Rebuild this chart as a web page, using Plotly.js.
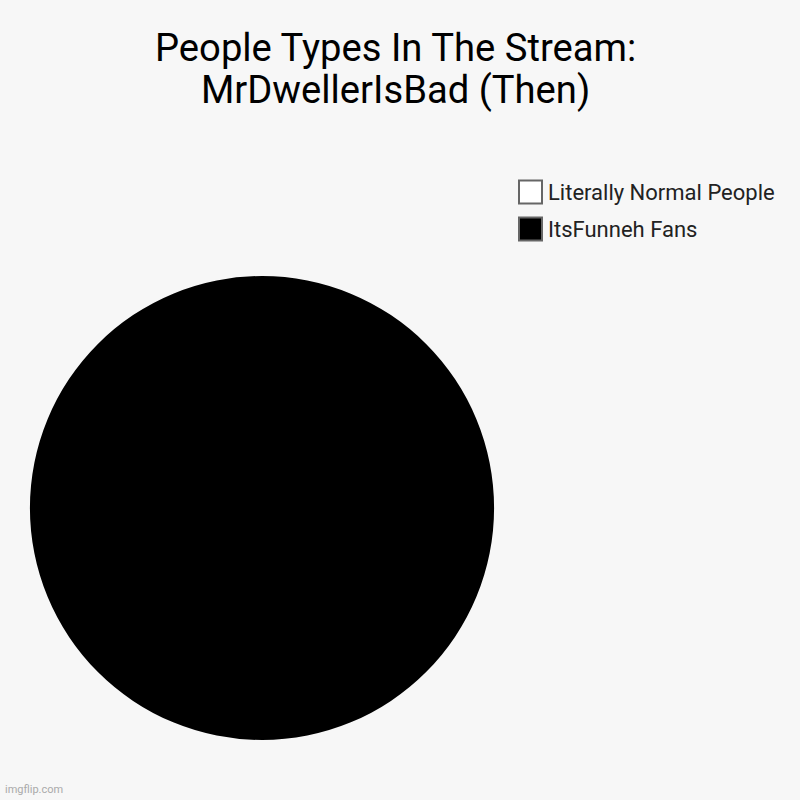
<!DOCTYPE html>
<html>
<head>
<meta charset="utf-8">
<script src="https://cdn.plot.ly/plotly-3.0.1.min.js"></script>
<style>html,body{margin:0;padding:0;background:#f7f7f7;}#chart{width:800px;height:800px;}</style>
</head>
<body>
<div id="chart"></div>
<script>
var titleLines = ["People Types In The Stream:", "MrDwellerIsBad (Then)"];
var labels = ["Literally Normal People", "ItsFunneh Fans"];
var values = [0, 100];
var colors = ["#ffffff", "#000000"];

var W = 800, H = 800;
function px(x) { return x / W; }
function py(y) { return 1 - y / H; }

var data = [{
  type: "pie",
  labels: labels,
  values: values,
  sort: false,
  direction: "clockwise",
  textinfo: "none",
  hoverinfo: "none",
  showlegend: false,
  marker: {colors: colors, line: {width: 0}},
  domain: {x: [px(30), px(494)], y: [py(740), py(276)]}
}];

var shapes = [];
var annotations = [];
// legend built from labels/colors
var legX = 519, legY0 = 192, legStep = 37, box = 23;
labels.forEach(function (lab, i) {
  var cy = legY0 + i * legStep;
  shapes.push({
    type: "rect", xref: "paper", yref: "paper",
    x0: px(legX), x1: px(legX + box), y0: py(cy + box / 2), y1: py(cy - box / 2),
    fillcolor: colors[i], line: {color: "#666666", width: 2}
  });
  annotations.push({
    text: lab, showarrow: false, xref: "paper", yref: "paper",
    x: px(legX + box + 4), y: py(cy + 1), xanchor: "left", yanchor: "middle",
    font: {family: "Roboto, sans-serif", size: 22, color: "#222222"}
  });
});
// title lines
titleLines.forEach(function (t, i) {
  annotations.push({
    text: t, showarrow: false, xref: "paper", yref: "paper",
    x: px(395), y: py(48 + i * 42), xanchor: "center", yanchor: "middle",
    font: {family: "Roboto, sans-serif", size: 38.2, color: "#000000"}
  });
});
annotations.push({
  text: "imgflip.com", showarrow: false,
  xref: "paper", yref: "paper", x: px(3), y: py(798),
  xanchor: "left", yanchor: "bottom",
  font: {family: "Roboto, sans-serif", size: 11, color: "#aaaaaa"}
});

var layout = {
  width: W, height: H,
  paper_bgcolor: "#f7f7f7",
  plot_bgcolor: "#f7f7f7",
  margin: {l: 0, r: 0, t: 0, b: 0},
  font: {family: "Roboto, sans-serif", color: "#111111"},
  showlegend: false,
  shapes: shapes,
  annotations: annotations
};

Plotly.newPlot("chart", data, layout, {displayModeBar: false, staticPlot: true});
</script>
</body>
</html>
